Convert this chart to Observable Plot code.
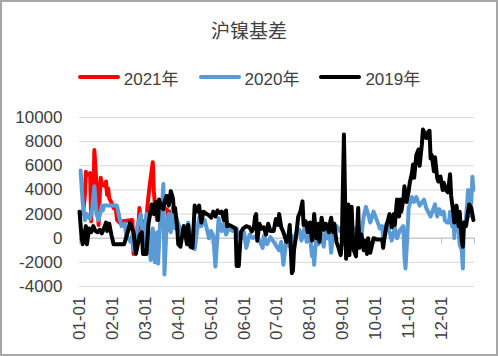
<!DOCTYPE html>
<html>
<head>
<meta charset="utf-8">
<script src="https://cdn.jsdelivr.net/npm/d3@7"></script>
<script src="https://cdn.jsdelivr.net/npm/@observablehq/plot@0.6"></script>
<style>
  body { margin: 0; background: #fff; }
  #frame { position: absolute; left: 0; top: 0; width: 498px; height: 356px; box-sizing: border-box;
           border: 2px solid #a6a6a6; background: #fff; overflow: hidden;
           font-family: "Liberation Sans", "Noto Sans CJK SC", sans-serif; color: #404040; }
  #title { position: absolute; left: 0; top: 16px; width: 494px; text-align: center;
           font-family: "Noto Sans CJK SC", sans-serif; font-size: 19px; line-height: 24px; color: #404040; }
  #legend { position: absolute; left: 0; top: 64px; width: 494px; height: 22px; display: flex;
            justify-content: center; align-items: center; font-size: 17px; color: #404040; }
  .item { display: flex; align-items: center; margin: 0 10px; }
  .sw { display: inline-block; width: 42px; height: 4px; border-radius: 2px; margin-right: 4px; }
  #chart { position: absolute; left: 0; top: 94px; }
</style>
</head>
<body>
<div id="frame">
  <div id="title"></div>
  <div id="legend"></div>
  <div id="chart"></div>
</div>
<script>
const chartTitle = "沪镍基差";
const seriesNames = ["2021年", "2020年", "2019年"];
const seriesYears = [2021, 2020, 2019];
const seriesColors = ["#ff0000", "#5b9bd5", "#000000"];
const monthLabels = ["01-01","02-01","03-01","04-01","05-01","06-01","07-01","08-01","09-01","10-01","11-01","12-01"];
const yTicks = [-4000, -2000, 0, 2000, 4000, 6000, 8000, 10000];

const dates2021 = ["01-04","01-05","01-06","01-07","01-08","01-11","01-12","01-13","01-14","01-15","01-18","01-19","01-20","01-21","01-22","01-25","01-26","01-27","01-28","01-29","02-01","02-02","02-03","02-04","02-05","02-08","02-09","02-10","02-18","02-19","02-22","02-23","02-24","02-25","02-26","03-01","03-02","03-03","03-04","03-05","03-08","03-09","03-10","03-11","03-12","03-15","03-16","03-17","03-18","03-19","03-22","03-23","03-24","03-25","03-26","03-29","03-30","03-31"];
const values2021 = [2000,2600,3500,5500,5200,5400,1400,4800,3000,7300,3000,1100,3500,5000,4500,4300,4700,3600,4100,3300,2800,2500,2600,2300,1500,1200,1300,1400,1500,-1300,300,900,2500,1200,800,1500,1200,2700,3500,4300,6300,3900,2800,2200,1500,1800,2100,2600,2800,2500,2300,700,2200,600,1800,1000,1500,1200];

const dates2020 = ["01-02","01-04","01-06","01-08","01-11","01-13","01-15","01-17","01-19","01-22","01-23","01-24","02-05","02-07","02-09","02-12","02-13","02-15","02-17","02-19","02-20","02-23","02-26","02-27","02-29","03-02","03-04","03-06","03-08","03-10","03-12","03-13","03-15","03-17","03-18","03-19","03-21","03-23","03-25","03-27","03-29","03-30","04-01","04-04","04-07","04-09","04-10","04-13","04-16","04-18","04-20","04-22","04-25","04-27","04-29","05-01","05-03","05-05","05-08","05-11","05-13","05-15","05-18","05-21","05-25","05-27","05-30","06-01","06-03","06-06","06-09","06-12","06-15","06-18","06-19","06-22","06-25","06-28","06-30","07-03","07-05","07-07","07-10","07-13","07-15","07-17","07-19","07-22","07-24","07-27","07-29","08-01","08-03","08-04","08-05","08-07","08-09","08-11","08-14","08-16","08-18","08-19","08-21","08-23","08-26","08-29","09-01","09-04","09-06","09-08","09-10","09-12","09-14","09-16","09-18","09-20","09-22","09-24","09-26","09-29","10-02","10-05","10-07","10-08","10-11","10-14","10-16","10-19","10-21","10-24","10-27","10-28","10-29","10-30","11-01","11-04","11-06","11-08","11-11","11-15","11-17","11-21","11-25","11-27","11-29","12-01","12-03","12-04","12-06","12-08","12-09","12-11","12-12","12-13","12-15","12-17","12-18","12-20","12-21","12-22","12-24","12-26","12-27","12-29","12-30","12-31"];
const values2020 = [5600,3000,1500,2000,1600,2500,4300,2000,1500,2700,2300,2700,2700,1800,1000,1200,300,0,-300,400,-1000,1000,2000,1000,-500,2000,500,-1800,800,-2000,500,-2100,1500,3000,4500,-3000,1000,2000,500,2500,800,1800,1200,400,1000,300,1300,-200,-900,500,1700,1000,1500,800,0,600,200,-2350,1650,600,1200,300,900,600,800,300,0,500,-800,300,0,200,-200,-800,200,-500,100,-300,-600,-1000,-300,-2200,0,-700,200,-500,400,700,-200,900,-300,200,-1500,-800,-2200,300,-500,500,-700,800,0,900,-1200,500,1000,600,1000,1500,500,1200,0,800,-500,900,300,1800,2600,2000,1300,2200,1500,800,1000,0,1200,500,-200,900,0,700,1000,-1500,-2500,-1000,2500,3400,3000,3400,2700,3200,2500,1800,2800,1800,2400,2000,2200,1500,1300,1300,2200,1000,1900,0,2600,1000,-500,-1000,-2500,1000,1600,4000,1800,3000,5100,4000];

const dates2019 = ["01-01","01-02","01-03","01-04","01-07","01-08","01-10","01-12","01-14","01-16","01-18","01-20","01-22","01-24","01-26","01-27","01-29","01-31","02-02","02-11","02-14","02-16","02-17","02-19","02-21","02-24","02-26","02-27","03-02","03-04","03-07","03-09","03-11","03-13","03-14","03-15","03-18","03-19","03-21","03-23","03-25","03-27","03-28","03-29","03-31","04-01","04-03","04-06","04-09","04-10","04-12","04-14","04-16","04-18","04-20","04-22","04-24","04-27","04-29","05-01","05-03","05-05","05-07","05-09","05-11","05-13","05-15","05-16","05-18","05-22","05-24","05-25","05-27","05-29","05-31","06-03","06-06","06-08","06-10","06-11","06-12","06-13","06-15","06-17","06-19","06-21","06-23","06-25","06-28","06-30","07-02","07-03","07-05","07-07","07-10","07-12","07-13","07-14","07-15","07-16","07-17","07-19","07-21","07-23","07-25","07-26","07-28","07-30","08-01","08-03","08-04","08-05","08-07","08-09","08-10","08-12","08-14","08-16","08-19","08-20","08-21","08-23","08-24","08-26","08-28","08-30","08-31","09-02","09-04","09-06","09-07","09-09","09-10","09-11","09-13","09-15","09-16","09-18","09-20","09-21","09-23","09-24","09-26","09-29","10-02","10-07","10-08","10-09","10-11","10-14","10-16","10-18","10-19","10-21","10-23","10-24","10-25","10-27","10-28","10-30","11-01","11-02","11-04","11-05","11-06","11-08","11-10","11-11","11-13","11-14","11-15","11-17","11-19","11-20","11-21","11-22","11-24","11-25","11-27","11-28","11-30","12-02","12-03","12-05","12-07","12-09","12-10","12-12","12-13","12-15","12-17","12-18","12-20","12-21","12-22","12-24","12-26","12-27","12-29","12-31"];
const values2019 = [2200,1100,0,-500,1000,-500,800,500,1000,600,500,700,400,800,1300,600,1200,300,-500,-500,500,1300,1000,500,-1300,200,500,-1300,-1300,1200,2800,2000,3000,1500,3200,2800,2400,3000,3500,2700,3900,3300,2200,2500,900,-500,-700,1000,-500,1100,-700,-800,2700,2200,2700,1300,2200,2000,1900,1700,2200,1800,2300,2100,2200,1500,2300,1000,1100,900,800,-2300,-2300,500,800,1000,900,550,900,1800,2000,-200,1200,800,900,300,1200,600,600,1600,1100,2000,900,500,-300,300,1100,-900,-2900,-2700,-1000,200,1800,2200,3050,1100,1400,500,1300,-200,700,2000,0,1200,-300,1700,700,1200,500,1300,1700,500,1200,-300,-800,-1400,-500,8600,-1700,2800,-1400,2600,300,-1000,-1500,2500,-800,300,-1000,-200,-1300,0,-1200,0,-100,-100,-800,-100,1000,2000,900,2000,1100,3200,1800,3200,2200,3200,4300,3000,3900,4600,5400,6100,5000,6900,7350,6000,7750,9000,8800,8300,8850,8900,6600,6900,5550,6700,5000,4700,5100,4000,4600,4000,3800,5300,3500,2200,1300,2700,1000,2200,-200,-700,1300,1000,2200,2800,2500,1500];

// month-position: each month occupies one unit on the x axis
function pos(md, year) {
  const [m, d] = md.split("-").map(Number);
  const dim = new Date(Date.UTC(year, m, 0)).getUTCDate();
  return (m - 1) + (d - 1) / dim;
}
function build(dates, values, year) {
  return dates.map((md, i) => ({x: pos(md, year), y: values[i]}));
}
const seriesData = [
  build(dates2021, values2021, 2021),
  build(dates2020, values2020, 2020),
  build(dates2019, values2019, 2019)
];

document.getElementById("title").textContent = chartTitle;
const legend = document.getElementById("legend");
seriesNames.forEach((name, i) => {
  const item = document.createElement("div");
  item.className = "item";
  const sw = document.createElement("span");
  sw.className = "sw";
  sw.style.background = seriesColors[i];
  const t = document.createElement("span");
  t.textContent = name;
  item.appendChild(sw);
  item.appendChild(t);
  legend.appendChild(item);
});

const monthIdx = d3.range(12);
const chart = Plot.plot({
  width: 494,
  height: 256,
  marginLeft: 77,
  marginRight: 22,
  marginTop: 21,
  marginBottom: 66,
  x: {domain: [0, 12], label: null},
  y: {domain: [-4000, 10000], label: null},
  style: {fontFamily: "'Liberation Sans', sans-serif", fontSize: "17px", color: "#404040", background: "white", overflow: "visible"},
  marks: [
    Plot.gridY(yTicks, {stroke: "#d9d9d9", strokeOpacity: 1}),
    Plot.ruleY([0], {stroke: "#bfbfbf"}),
    Plot.ruleX(d3.range(13), {y1: 0, y2: -500, stroke: "#bfbfbf"}),
    Plot.axisY(yTicks, {tickSize: 0, tickPadding: 17, tickFormat: d => String(d), fontSize: 17, label: null}),
    Plot.axisX(monthIdx, {tickSize: 0, tickPadding: 10, tickRotate: -90, tickFormat: i => monthLabels[i], fontSize: 17, label: null}),
    ...seriesData.map((data, i) => Plot.line(data, {x: "x", y: "y", stroke: seriesColors[i], strokeWidth: 4, strokeLinejoin: "round", strokeLinecap: "round"}))
  ]
});
document.getElementById("chart").appendChild(chart);
</script>
</body>
</html>
